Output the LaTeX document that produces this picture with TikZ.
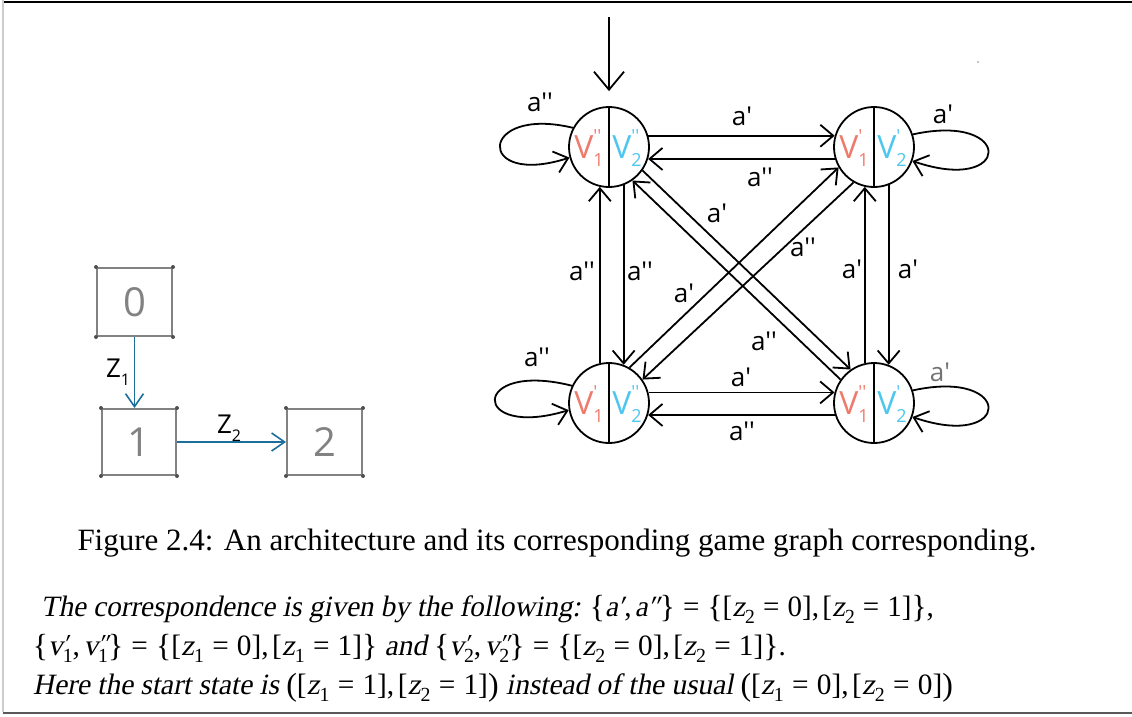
\documentclass[tikz,border=0pt]{standalone}
\usepackage{fontspec}
\usepackage{graphicx}
\setmainfont{Liberation Serif}
\newfontfamily\hand{Open Sans}
\newfontfamily\slfont{Liberation Serif}[FakeSlant=0.2]
\usetikzlibrary{arrows.meta}
\definecolor{salmon}{RGB}{238,122,108}
\definecolor{sky}{RGB}{78,198,240}
\definecolor{teal}{RGB}{28,110,155}
\definecolor{boxgray}{RGB}{130,130,130}
\definecolor{dotgray}{RGB}{80,80,80}
\newcommand{\vlab}[2]{V\makebox[0pt][l]{\raisebox{0.5em}{\fontsize{18}{18}\selectfont #1}}\raisebox{-0.25em}{\fontsize{18}{18}\selectfont #2}}
\newcommand{\ap}{a\textquotesingle}
\newcommand{\app}{a\textquotesingle\textquotesingle}
% body-text helpers
\newcommand{\LB}{{\rmfamily\fontsize{32}{32}\selectfont\raisebox{-0.04em}{\{}}}
\newcommand{\RB}{{\rmfamily\fontsize{32}{32}\selectfont\raisebox{-0.04em}{\}}}}
\newcommand{\LP}{{\rmfamily\fontsize{32}{32}\selectfont\raisebox{-0.04em}{(}}}
\newcommand{\RP}{{\rmfamily\fontsize{32}{32}\selectfont\raisebox{-0.04em}{)}}}
\newcommand{\sbs}[1]{\raisebox{-0.25em}{\rmfamily\fontsize{20}{20}\selectfont #1}}
\newcommand{\eq}{\hspace{0.28em}{\rmfamily=}\hspace{0.28em}}
\newcommand{\Zeq}[2]{{\rmfamily[}z\sbs{#1}\eq{\rmfamily #2}{\rmfamily]}}
\newcommand{\pv}[2]{v\makebox[0pt][l]{\raisebox{0.1em}{\fontsize{26}{26}\selectfont #1}}\sbs{#2}}
\newcommand{\cm}{{\rmfamily,}\hspace{0.12em}}
\begin{document}
\begin{tikzpicture}[x=1pt,y=-1pt,line width=1.8pt,
  state/.style={circle,draw,minimum size=80pt,inner sep=0pt,line width=1.8pt},
  ar/.style={-{Straight Barb[length=13pt,width=22pt,line width=1.8pt]}},
  bigar/.style={-{Straight Barb[length=18pt,width=30pt,line width=1.8pt]}},
  zar/.style={draw=teal,-{Straight Barb[length=13pt,width=18pt,line width=1.6pt]}},
  lab/.style={font=\hand\fontsize{26}{26}\selectfont,inner sep=0pt},
  vl/.style={font=\hand\fontsize{32}{32}\selectfont,inner sep=0pt,text=salmon},
  vr/.style={font=\hand\fontsize{32}{32}\selectfont,inner sep=0pt,text=sky},
  box/.style={draw=boxgray,line width=2pt,inner sep=0pt,text=boxgray,font=\hand\fontsize{40}{40}\selectfont},
  body/.style={font=\slfont\fontsize{29.5}{38}\selectfont,inner sep=0pt,anchor=base west}]
\useasboundingbox (0,0) rectangle (1132,716);
% frame
\draw[line width=2pt,black] (3,1.5) -- (1132,1.5);
\draw[line width=1.5pt,black!20] (3,0) -- (3,712);
\draw[line width=2pt,black!65] (3,712.5) -- (1132,712.5);
\fill[black!45] (978,62) circle (0.8);
% left architecture
\node[box,minimum width=75pt,minimum height=68pt] (b0) at (134.5,302) {0};
\node[box,minimum width=74pt,minimum height=66pt] (b1) at (139,442) {1};
\node[box,minimum width=75pt,minimum height=66pt] (b2) at (324.5,442) {2};
\foreach \b in {b0,b1,b2}{
  \foreach \c in {north west,north east,south west,south east}{
    \fill[dotgray] (\b.\c) circle (2);}}
\draw[zar] (b0.south) -- (b0.south |- b1.north);
\draw[zar] (b1.east) -- (b2.west);
\node[lab] (z1) at (118,372) {Z\raisebox{-0.3em}{\fontsize{16}{16}\selectfont 1}};
\node[lab] (z2) at (229,428) {Z\raisebox{-0.3em}{\fontsize{16}{16}\selectfont 2}};
% states
\node[state] (TL) at (609,147) {};
\node[state] (TR) at (874,147) {};
\node[state] (BL) at (609,403) {};
\node[state] (BR) at (874,403) {};
\foreach \s in {TL,TR,BL,BR}{\draw (\s.north) -- (\s.south);}
\node[vl] (tl1) at (589,148) {\vlab{''}{1}};
\node[vr] (tl2) at (627,148) {\vlab{''}{2}};
\node[vl] (tr1) at (854,148) {\vlab{'}{1}};
\node[vr] (tr2) at (892,148) {\vlab{'}{2}};
\node[vl] (bl1) at (589,404) {\vlab{'}{1}};
\node[vr] (bl2) at (627,404) {\vlab{''}{2}};
\node[vl] (br1) at (854,404) {\vlab{''}{1}};
\node[vr] (br2) at (892,404) {\vlab{'}{2}};
% start arrow
\coordinate (start) at (609,17);
\draw[bigar,shorten >=15pt] (start) -- (TL.north);
% horizontal edges
\draw[ar] (TL.16) -- (TR.164);
\draw[ar] (TR.197) -- (TL.-17);
\draw[ar] (BL.15) -- (BR.165);
\draw[ar] (BR.197) -- (BL.-17);
% vertical edges
\draw[ar] (BL.103) -- (TL.-103);
\draw[ar] (TL.-69.5) -- (BL.69.5);
\draw[ar] (BR.103) -- (TR.-103);
\draw[ar] (TR.-69.5) -- (BR.69.5);
% diagonals
\draw[ar] (TL.-35) -- (BR.125);
\draw[ar] (BR.145) -- (TL.-55);
\draw[ar] (BL.60) -- (TR.210);
\draw[ar] (TR.240) -- (BL.35);
% loops
\draw[ar] (TL.152) .. controls (478,105) and (475,188) .. (TL.195);
\draw[ar] (TR.18) .. controls (1015,112) and (1012,195) .. (TR.-20);
\draw[ar] (BL.155) .. controls (470,360) and (470,440) .. (BL.190);
\draw[ar] (BR.18) .. controls (1015,368) and (1012,451) .. (BR.-20);
% edge labels
\node[lab] (l1) at (742,116) {\ap};
\node[lab] (l2) at (760,177) {\app};
\node[lab] (l3) at (717,213) {\ap};
\node[lab] (l4) at (803,247) {\app};
\node[lab] (l5) at (582,271) {\app};
\node[lab] (l6) at (640,271) {\app};
\node[lab] (l7) at (684,293) {\ap};
\node[lab] (l8) at (852,269) {\ap};
\node[lab] (l9) at (908,269) {\ap};
\node[lab] (l10) at (764,341) {\app};
\node[lab] (l11) at (741,377) {\ap};
\node[lab] (l12) at (742,431) {\app};
\node[lab] (l13) at (540,102) {\app};
\node[lab] (l14) at (943,114) {\ap};
\node[lab] (l15) at (537,357) {\app};
\node[lab,text=black!55] (l16) at (940,372) {\ap};
% caption
\node[font=\fontsize{31}{36}\selectfont,inner sep=0pt,anchor=base] (cap) at (557,550)
  {Figure 2.4: An architecture and its corresponding game graph corresponding.};
\node[body] (t1) at (40,616) {\resizebox{893pt}{\height}{The correspondence is given by the following: \LB a′\cm a″\RB\eq\LB\Zeq{2}{0}\cm\Zeq{2}{1}\RB{\rmfamily,}}};
\node[body] (t2) at (32,655) {\resizebox{753pt}{\height}{\LB\pv{′}{1}\cm\pv{″}{1}\RB\eq\LB\Zeq{1}{0}\cm\Zeq{1}{1}\RB{} and \LB\pv{′}{2}\cm\pv{″}{2}\RB\eq\LB\Zeq{2}{0}\cm\Zeq{2}{1}\RB{\rmfamily.}}};
\node[body] (t3) at (32,694) {\resizebox{920pt}{\height}{Here the start state is \LP\Zeq{1}{1}\cm\Zeq{2}{1}\RP{} instead of the usual \LP\Zeq{1}{0}\cm\Zeq{2}{0}\RP}};
\end{tikzpicture}
\end{document}
